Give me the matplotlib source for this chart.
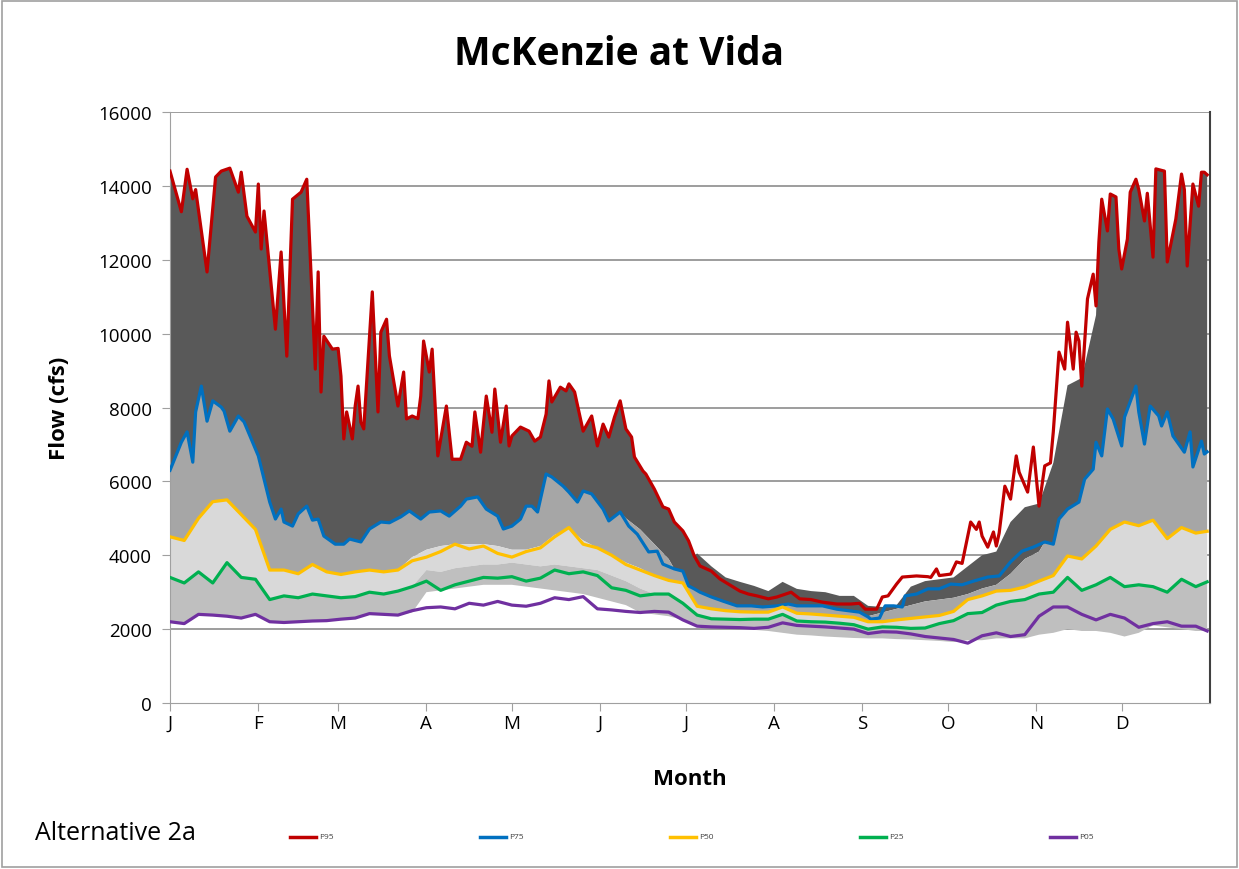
import matplotlib.pyplot as plt
from matplotlib.lines import Line2D
from matplotlib.patches import Rectangle

# day of year for the 5-day sampled series
days = [0, 5, 10, 15, 20, 25, 30, 35, 40, 45, 50, 55, 60, 65, 70, 75, 80, 85, 90, 95,
        100, 105, 110, 115, 120, 125, 130, 135, 140, 145, 150, 155, 160, 165, 170, 175,
        180, 185, 190, 195, 200, 205, 210, 215, 220, 225, 230, 235, 240, 245, 250, 255,
        260, 265, 270, 275, 280, 285, 290, 295, 300, 305, 310, 315, 320, 325, 330, 335,
        340, 345, 350, 355, 360, 364]

# Alternative 2a, P95 (read at its peaks and dips)
p95_days = [0, 4, 6, 8, 9, 13, 16, 18, 21, 24, 25, 27, 30, 31, 32, 33, 37, 39, 41, 43, 46,
            48, 51, 52, 53, 54, 57, 59, 60, 61, 62, 64, 65, 66, 67, 68, 71, 73, 74, 76, 77,
            80, 82, 83, 85, 87, 88, 89, 91, 92, 94, 97, 99, 102, 104, 106, 107, 109, 111,
            113, 114, 116, 118, 119, 120, 123, 126, 128, 130, 132, 133, 134, 137, 139, 140,
            142, 145, 148, 150, 152, 154, 156, 158, 160, 162, 163, 166, 167, 170, 173, 175,
            177, 180, 182, 184, 186, 190, 193, 197, 200, 203, 206, 210, 213, 218, 221, 225,
            229, 234, 239, 242, 244, 248, 250, 252, 255, 257, 262, 266, 267, 269, 270, 274,
            276, 278, 281, 283, 284, 285, 287, 289, 290, 291, 293, 295, 297, 298, 301, 303,
            305, 307, 309, 310, 312, 314, 315, 317, 318, 319, 320, 322, 324, 325, 326, 327,
            329, 330, 332, 333, 334, 336, 337, 339, 340, 342, 343, 345, 346, 349, 350, 353,
            355, 356, 357, 359, 361, 362, 363, 364]
p95 = [14400, 13300, 14450, 13650, 13900, 11670, 14240, 14400, 14480, 13830, 14370, 13180,
       12750, 14050, 12290, 13320, 10120, 12210, 9390, 13640, 13830, 14180, 9040, 11670, 8420,
       9930, 9580, 9600, 8850, 7150, 7880, 7150, 8040, 8580, 7600, 7420, 11130, 7880, 10040,
       10390, 9400, 8040, 8960, 7690, 7770, 7700, 8310, 9800, 8960, 9580, 6690, 8040, 6600,
       6600, 7060, 6950, 7880, 6790, 8310, 7330, 8500, 7060, 8040, 6960, 7230, 7470, 7360,
       7090, 7200, 7820, 8720, 8150, 8550, 8450, 8640, 8420, 7360, 7770, 6960, 7550, 7200,
       7740, 8180, 7420, 7200, 6660, 6280, 6200, 5790, 5310, 5250, 4900, 4660, 4390, 3980,
       3710, 3570, 3360, 3170, 3030, 2950, 2900, 2820, 2870, 3000, 2820, 2800, 2730, 2680,
       2680, 2700, 2540, 2540, 2870, 2900, 3220, 3410, 3440, 3420, 3400, 3630, 3450, 3490,
       3820, 3780, 4900, 4700, 4900, 4520, 4220, 4630, 4250, 4600, 5870, 5520, 6690, 6250,
       5710, 6930, 5330, 6420, 6500, 7340, 9500, 9040, 10310, 9040, 10040, 9800, 8580, 10940,
       11610, 10750, 12480, 13640, 12780, 13780, 13700, 12290, 11750, 12560, 13830, 14180,
       13900, 13050, 13800, 12070, 14460, 14400, 11940, 13100, 14320, 13900, 11830, 14050,
       13450, 14370, 14370, 14300]

# Alternative 2a, P75
p75_days = [0, 4, 6, 8, 9, 11, 13, 15, 18, 19, 21, 24, 26, 29, 31, 33, 35, 37, 39, 40, 43,
            45, 48, 50, 52, 54, 58, 61, 63, 67, 70, 74, 77, 81, 84, 88, 91, 95, 98, 102, 104,
            108, 111, 115, 117, 120, 123, 125, 127, 129, 132, 134, 138, 140, 143, 145, 148,
            152, 154, 158, 161, 164, 168, 171, 173, 177, 180, 182, 184, 186, 190, 194, 199,
            204, 208, 213, 217, 220, 225, 229, 234, 239, 242, 245, 246, 249, 251, 254, 257,
            258, 262, 266, 270, 274, 278, 282, 287, 291, 295, 299, 303, 307, 310, 312, 315,
            319, 321, 324, 325, 327, 329, 331, 334, 335, 339, 340, 342, 344, 347, 348, 350,
            352, 356, 358, 359, 362, 363, 364]
p75 = [6300, 7060, 7340, 6520, 7880, 8580, 7630, 8180, 8010, 7900, 7360, 7770, 7610, 7060,
       6690, 6060, 5440, 4980, 5250, 4900, 4790, 5120, 5330, 4950, 4980, 4520, 4300, 4300,
       4440, 4360, 4710, 4900, 4880, 5040, 5200, 4980, 5170, 5200, 5060, 5330, 5520, 5580,
       5250, 5060, 4710, 4790, 4980, 5330, 5330, 5170, 6200, 6120, 5870, 5710, 5440, 5740,
       5660, 5250, 4930, 5170, 4790, 4570, 4090, 4110, 3760, 3630, 3570, 3170, 3090, 3000,
       2870, 2760, 2630, 2630, 2600, 2630, 2680, 2630, 2630, 2630, 2540, 2490, 2460, 2330,
       2270, 2300, 2630, 2630, 2600, 2900, 2950, 3090, 3090, 3220, 3200, 3300, 3410, 3440,
       3820, 4110, 4220, 4360, 4300, 4980, 5250, 5440, 6060, 6330, 7060, 6690, 7960, 7690,
       6960, 7740, 8580, 7880, 7010, 8040, 7770, 7500, 7880, 7230, 6790, 7340, 6390, 7090,
       6740, 6800]

# Alternative 2a, P50 / P25 / P05 on the 5-day grid
p50 = [4500, 4400, 5000, 5450, 5500, 5100, 4700, 3600, 3600, 3500, 3750, 3550, 3480, 3550,
       3600, 3550, 3600, 3850, 3950, 4100, 4300, 4170, 4250, 4050, 3950, 4100, 4200, 4500,
       4750, 4300, 4200, 4000, 3750, 3600, 3450, 3320, 3250, 2620, 2550, 2500, 2470, 2460,
       2460, 2600, 2430, 2410, 2380, 2350, 2320, 2200, 2200, 2250, 2290, 2330, 2370, 2480,
       2800, 2900, 3030, 3050, 3140, 3300, 3450, 3980, 3900, 4250, 4700, 4900, 4800, 4950,
       4450, 4750, 4600, 4650]
p25 = [3400, 3250, 3550, 3250, 3800, 3400, 3350, 2800, 2900, 2850, 2950, 2900, 2850, 2880,
       3000, 2950, 3030, 3150, 3300, 3050, 3200, 3300, 3400, 3380, 3420, 3300, 3380, 3600,
       3500, 3550, 3450, 3120, 3050, 2900, 2950, 2950, 2700, 2380, 2280, 2270, 2260, 2270,
       2270, 2400, 2220, 2200, 2190, 2160, 2120, 2000, 2060, 2050, 2020, 2030, 2150, 2230,
       2420, 2450, 2650, 2750, 2800, 2950, 3000, 3400, 3050, 3200, 3400, 3150, 3200, 3150,
       3000, 3350, 3150, 3280]
p05 = [2200, 2150, 2400, 2380, 2350, 2300, 2400, 2200, 2180, 2200, 2220, 2230, 2270, 2300,
       2420, 2400, 2380, 2500, 2580, 2600, 2550, 2700, 2650, 2750, 2650, 2620, 2700, 2850,
       2800, 2880, 2550, 2520, 2480, 2450, 2480, 2460, 2250, 2080, 2060, 2050, 2040, 2020,
       2050, 2170, 2100, 2080, 2060, 2030, 2000, 1880, 1930, 1920, 1870, 1800, 1760, 1720,
       1620, 1820, 1900, 1800, 1850, 2350, 2600, 2600, 2400, 2250, 2400, 2300, 2050, 2150,
       2200, 2080, 2080, 1950]

# shaded bands: stretches where their edges leave the Alternative 2a lines
band95_days = [185, 190, 195, 200, 205, 210, 215, 220, 225, 230, 235, 240, 245, 250, 255,
               260, 265, 270, 275, 280, 285, 290, 295, 300, 305, 310, 315, 320, 325]
band95 = [4050, 3700, 3400, 3280, 3170, 3030, 3280, 3090, 3030, 3000, 2900, 2900, 2630,
          2600, 2650, 3150, 3300, 3350, 3400, 3700, 4000, 4100, 4900, 5300, 5400, 6500, 8600,
          8800, 10500]
band75_jun_days = [160, 165, 170, 175]
band75_jun = [5000, 4700, 4300, 3900]
band75_fall_days = [245, 250, 255, 260, 265, 270, 275, 280, 285, 290, 295, 300, 305]
band75_fall = [2350, 2450, 2550, 2650, 2750, 2800, 2850, 2950, 3100, 3200, 3500, 3900, 4100]
band50_days = [85, 90, 95, 100, 105, 110, 115, 120, 125, 130, 135, 140, 145, 150, 155, 160, 165]
band50 = [3950, 4150, 4250, 4300, 4300, 4300, 4250, 4150, 4150, 4250, 4550, 4700, 4400, 4200,
          4000, 3800, 3650]
band25_days = [90, 95, 100, 105, 110, 115, 120, 125, 130, 135, 140, 145, 150, 155, 160, 165]
band25 = [3600, 3550, 3650, 3700, 3750, 3750, 3800, 3750, 3700, 3750, 3700, 3650, 3600, 3450,
          3300, 3100]
band05 = [2200, 2150, 2400, 2380, 2350, 2300, 2400, 2200, 2180, 2200, 2220, 2230, 2270, 2300,
          2420, 2400, 2380, 2450, 3000, 3050, 3100, 3150, 3200, 3200, 3200, 3150, 3100, 3050,
          3000, 2950, 2850, 2750, 2650, 2450, 2400, 2350, 2250, 2100, 2060, 2050, 2000, 1980,
          1950, 1900, 1850, 1830, 1800, 1780, 1760, 1750, 1750, 1730, 1720, 1700, 1680, 1650,
          1700, 1700, 1750, 1750, 1750, 1850, 1900, 2000, 1950, 1950, 1900, 1800, 1900, 2100,
          2050, 2000, 1950, 1950]

month_starts = [0, 31, 59, 90, 120, 151, 181, 212, 243, 273, 304, 334]
month_labels = ["J", "F", "M", "A", "M", "J", "J", "A", "S", "O", "N", "D"]
series_names = ["P95", "P75", "P50", "P25", "P05"]
series_colors = ["#c00000", "#0070c0", "#ffc000", "#00b050", "#7030a0"]


def splice(line_d, line_v, seg_d, seg_v):
    # band edge = line, except over the stretch given by the segment
    pts = [(d, v) for d, v in zip(line_d, line_v) if d < seg_d[0] or d > seg_d[-1]]
    pts += list(zip(seg_d, seg_v))
    pts.sort()
    return [p[0] for p in pts], [p[1] for p in pts]


def band(ax, top, bottom, color):
    xs = list(top[0]) + list(bottom[0])[::-1]
    ys = list(top[1]) + list(bottom[1])[::-1]
    ax.fill(xs, ys, color=color, lw=0, zorder=2)


edge95 = splice(p95_days, p95, band95_days, band95)
edge75 = splice(*splice(p75_days, p75, band75_jun_days, band75_jun), band75_fall_days, band75_fall)
edge50 = splice(days, p50, band50_days, band50)
edge25 = splice(days, p25, band25_days, band25)
edge05 = (days, band05)

plt.rcParams['font.family'] = ['Open Sans', 'DejaVu Sans']

fig = plt.figure(figsize=(12.39, 8.70), dpi=100)
ax = fig.add_axes([0.1372, 0.1908, 0.8394, 0.6793])

band(ax, edge95, edge75, "#595959")
band(ax, edge75, edge50, "#a6a6a6")
band(ax, edge50, edge25, "#d9d9d9")
band(ax, edge25, edge05, "#bfbfbf")

ax.plot(p95_days, p95, color=series_colors[0], lw=2.3, zorder=3)
ax.plot(p75_days, p75, color=series_colors[1], lw=2.3, zorder=3)
for vals, c in zip([p50, p25, p05], series_colors[2:]):
    ax.plot(days, vals, color=c, lw=2.3, zorder=3)

ax.set_xlim(0, 365)
ax.set_ylim(0, 16000)
ax.set_yticks(range(0, 16001, 2000))
ax.set_xticks(month_starts)
ax.set_xticklabels(month_labels, fontsize=13.5)
ax.tick_params(axis="y", labelsize=13.5, length=6, color="#a0a0a0", pad=7)
ax.tick_params(axis="x", length=6, color="#a0a0a0", pad=2)

for yv in range(2000, 16001, 2000):
    ax.axhline(yv, color="#8c8c8c", lw=1.2, zorder=1)

ax.spines['top'].set_visible(False)
ax.spines['left'].set_color("#a0a0a0")
ax.spines['bottom'].set_color("#a0a0a0")
ax.spines['right'].set_color("#404040")
ax.spines['right'].set_linewidth(1.5)

ax.set_ylabel("Flow (cfs)", fontsize=16, fontweight="bold", labelpad=20)
ax.set_xlabel("Month", fontsize=16, fontweight="bold", labelpad=26)
fig.text(0.5, 0.937, "McKenzie at Vida", ha="center", va="center", fontsize=28, fontweight="bold")

# bottom legend row
fig.text(0.028, 0.042, "Alternative 2a", fontsize=18, va="center")
for i, (name, c) in enumerate(zip(series_names, series_colors)):
    x0 = 290 + i * 190
    fig.add_artist(Line2D([x0 / 1239, (x0 + 26) / 1239], [0.037, 0.037], color=c, lw=2.5))
    fig.text((x0 + 29) / 1239, 0.037, name, fontsize=6, va="center", color="#404040")

fig.add_artist(Rectangle((0.002, 0.002), 0.996, 0.996, fill=False, ec="#a0a0a0", lw=1.2,
                         transform=fig.transFigure))

fig.savefig("out.png", dpi=100)
